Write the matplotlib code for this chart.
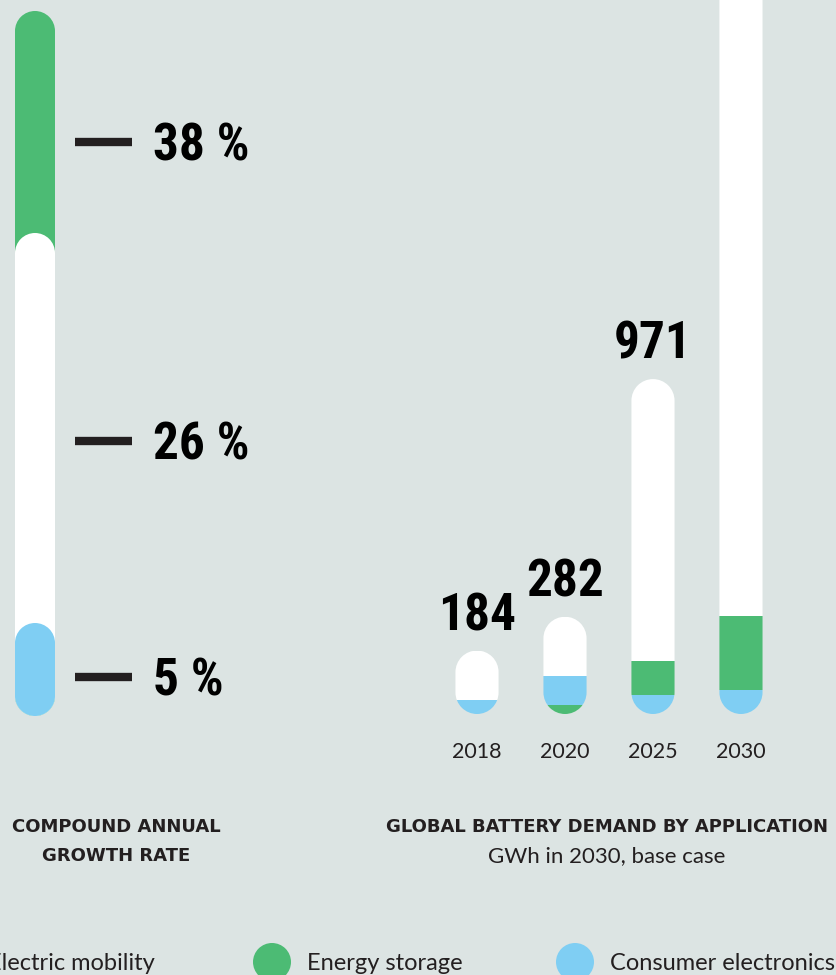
import os
import numpy as np
import matplotlib
matplotlib.use('Agg')
import matplotlib.pyplot as plt
from matplotlib.path import Path
from matplotlib.patches import PathPatch, Circle
from matplotlib import font_manager

# data (GWh)
years = ['2018', '2020', '2025', '2030']
total_gwh = [184, 282, 971, 2623]
consumer_gwh = [40, 84, 55, 70]
storage_gwh = [0, 26, 99, 214]
mobility_gwh = [t - c - s for t, c, s in zip(total_gwh, consumer_gwh, storage_gwh)]

# bottom -> top order of the stack for each year, as in the original
stack_order = [['ce', 'es', 'em'], ['es', 'ce', 'em'],
               ['ce', 'es', 'em'], ['ce', 'es', 'em']]

cagr_labels = ['38 %', '26 %', '5 %']
legend_names = ['Electric mobility', 'Energy storage', 'Consumer electronics']

bg = '#dce4e3'
green = '#4cbb74'
blue = '#7fcef3'
dark = '#231f20'


def pick_condensed_bold():
    files = [f.fname for f in font_manager.fontManager.ttflist]
    prefs = ['liberationsansnarrow-bold.', 'robotocondensed-bold.',
             'opensans-condbold', 'dejavusanscondensed-bold.']
    for p in prefs:
        for fn in files:
            if os.path.basename(fn).lower().startswith(p):
                return fn
    return None


cond_file = pick_condensed_bold()


def big_font(size):
    if cond_file:
        return font_manager.FontProperties(fname=cond_file, size=size)
    return font_manager.FontProperties(family='DejaVu Sans', weight='bold',
                                       stretch='condensed', size=size)


def capsule_path(xc, width, y_lo, y_hi, ry):
    rx = width / 2
    top = Path.arc(0, 180)
    bot = Path.arc(180, 360)
    vt = top.vertices * [rx, ry] + [xc, y_hi - ry]
    vb = bot.vertices * [rx, ry] + [xc, y_lo + ry]
    verts = np.vstack([vt, vb, vt[:1]])
    codes = np.concatenate([top.codes, [Path.LINETO], bot.codes[1:], [Path.CLOSEPOLY]])
    return Path(verts, codes)


fig = plt.figure(figsize=(8.36, 9.75), dpi=100, facecolor=bg)

# overlay in pixel units for the decorative parts and the texts
ax_px = fig.add_axes([0, 0, 1, 1])
ax_px.set_xlim(0, 836)
ax_px.set_ylim(975, 0)
ax_px.axis('off')

# left growth-rate column: layered capsules (green, white, blue)
col_tops = [11, 233, 623]
col_bottom = 716
col_colors = [green, 'white', blue]
for top, c in zip(col_tops, col_colors):
    ax_px.add_patch(PathPatch(capsule_path(35, 40, top, col_bottom, 20),
                              facecolor=c, edgecolor='none'))

label_y = [142, 441, 677]
for y, lab in zip(label_y, cagr_labels):
    ax_px.plot([75, 132], [y, y], color=dark, lw=6, solid_capstyle='butt')
    ax_px.text(153, y + 18.5, lab, fontproperties=big_font(37), color='black',
               ha='left', va='baseline')

# titles
ax_px.text(116, 832, 'COMPOUND ANNUAL', ha='center', va='baseline',
           fontsize=13, fontweight='bold', family='DejaVu Sans', color=dark)
ax_px.text(116, 861, 'GROWTH RATE', ha='center', va='baseline',
           fontsize=13, fontweight='bold', family='DejaVu Sans', color=dark)
ax_px.text(607, 832, 'GLOBAL BATTERY DEMAND BY APPLICATION', ha='center',
           va='baseline', fontsize=13, fontweight='bold', family='DejaVu Sans',
           color=dark)
ax_px.text(607, 862, 'GWh in 2030, base case', ha='center', va='baseline',
           fontsize=16, family='Lato', color=dark)

# legend (first entry runs off the left edge, as in the original)
legend_colors = ['white', green, blue]
legend_text_x = [-12, 307, 610]
for name, c, tx in zip(legend_names, legend_colors, legend_text_x):
    ax_px.add_patch(Circle((tx - 35, 962), 19, facecolor=c, edgecolor='none'))
    ax_px.text(tx, 970.5, name, ha='left', va='baseline', fontsize=17,
               family='Lato', color=dark)

# right: stacked capsule bars
ax_r = fig.add_axes([420 / 836, 261 / 975, 416 / 836, 714 / 975])
ax_r.set_facecolor('none')
ax_r.axis('off')
ax_r.set_xlim(-0.648, 4.08)
ax_r.set_ylim(0, 2070)

bar_w = 0.49
seg_values = {'em': mobility_gwh, 'es': storage_gwh, 'ce': consumer_gwh}
seg_colors = {'em': 'white', 'es': green, 'ce': blue}

p0 = ax_r.transData.transform((0, 0))
p1 = ax_r.transData.transform((1, 1))
ry = (bar_w / 2) * (p1[0] - p0[0]) / (p1[1] - p0[1])

for i, yr in enumerate(years):
    clip = PathPatch(capsule_path(i, bar_w, 0, total_gwh[i], ry),
                     transform=ax_r.transData)
    bottom = 0
    for key in stack_order[i]:
        v = seg_values[key][i]
        bars = ax_r.bar(i, v, bar_w, bottom=bottom, color=seg_colors[key],
                        linewidth=0)
        bars.patches[0].set_clip_path(clip)
        bottom += v

    ax_r.annotate(str(total_gwh[i]), xy=(i, total_gwh[i]), xytext=(0, 14.5),
                  textcoords='offset points', ha='center', va='baseline',
                  fontproperties=big_font(37), color='black')
    ax_r.annotate(yr, xy=(i, 0), xytext=(0, -31.7), textcoords='offset points',
                  ha='center', va='baseline', fontsize=15.5, family='Lato',
                  color=dark, annotation_clip=False)

fig.savefig('out.png', dpi=100, facecolor=bg)
